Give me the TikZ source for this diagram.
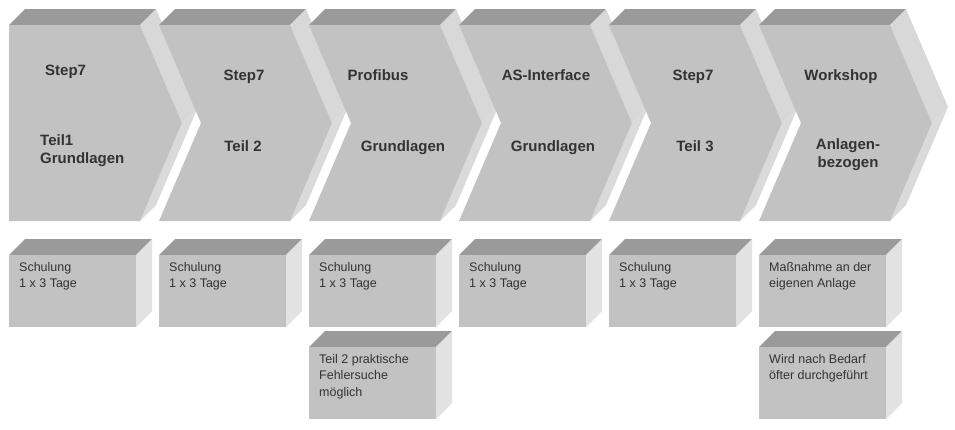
\documentclass[tikz,border=0pt]{standalone}
\usepackage{fontspec}
\setmainfont{Liberation Sans}
\usepackage{tikz}
\usepackage{xcolor}
\definecolor{frontgray}{HTML}{C2C2C2}
\definecolor{topgray}{HTML}{9A9A9A}
\definecolor{sidegray}{HTML}{D8D8D8}
\definecolor{boxside}{HTML}{E2E2E2}
\definecolor{textgray}{HTML}{333333}
\tikzset{
  title/.style={font=\fontsize{15}{18}\selectfont\bfseries, text=textgray, inner sep=0pt},
  note/.style={font=\fontsize{12.5}{16.5}\selectfont, text=textgray, align=left, anchor=north west, inner sep=0pt}
}

\begin{document}
\begin{tikzpicture}[x=1pt,y=-1pt]
\useasboundingbox[fill=white] (0,0) rectangle (955,429);

\foreach \x/\n in {9/0,159/42,309/42,459/42,609/42,759/42} {
  \fill[topgray] (\x,25) -- (\x+16,9) -- (\x+147,9) -- (\x+131,25) -- cycle;
  \fill[sidegray] (\x+131,25) -- (\x+147,9) -- (\x+189,107) -- (\x+173,123) -- cycle;
  \fill[sidegray!95!white] (\x+173,123) -- (\x+189,107) -- (\x+147,205) -- (\x+131,221) -- cycle;
  \fill[frontgray] (\x,25) -- (\x+131,25) -- (\x+173,123) -- (\x+131,221) -- (\x,221) -- (\x+\n,123) -- cycle;
}

\node[title, anchor=base west] (s1a) at (45,75) {Step7};
\node[title, anchor=north west, align=left] (s1b) at (40,134) {Teil1\\Grundlagen};
\node[title, anchor=base] (s2a) at (244,80) {Step7};
\node[title, anchor=base] (s2b) at (243,151) {Teil 2};
\node[title, anchor=base] (s3a) at (378,80) {Profibus};
\node[title, anchor=base] (s3b) at (403,151) {Grundlagen};
\node[title, anchor=base] (s4a) at (546,80) {AS-Interface};
\node[title, anchor=base] (s4b) at (553,151) {Grundlagen};
\node[title, anchor=base] (s5a) at (693,80) {Step7};
\node[title, anchor=base] (s5b) at (695,151) {Teil 3};
\node[title, anchor=base] (s6a) at (841,80) {Workshop};
\node[title, anchor=north, align=center] (s6b) at (848,138) {Anlagen-\\bezogen};

\foreach \x/\y in {9/255,159/255,309/255,459/255,609/255,759/255,309/347,759/347} {
  \fill[topgray] (\x,\y) -- (\x+16,\y-16) -- (\x+143,\y-16) -- (\x+127,\y) -- cycle;
  \fill[boxside] (\x+127,\y) -- (\x+143,\y-16) -- (\x+143,\y+56) -- (\x+127,\y+72) -- cycle;
  \fill[frontgray] (\x,\y) rectangle (\x+127,\y+72);
}

\node[note] (b1) at (19,262) {Schulung\\1 x 3 Tage};
\node[note] (b2) at (169,262) {Schulung\\1 x 3 Tage};
\node[note] (b3) at (319,262) {Schulung\\1 x 3 Tage};
\node[note] (b4) at (469,262) {Schulung\\1 x 3 Tage};
\node[note] (b5) at (619,262) {Schulung\\1 x 3 Tage};
\node[note] (b6) at (769,262) {Maßnahme an der\\eigenen Anlage};
\node[note] (b3x) at (319,354) {Teil 2 praktische\\Fehlersuche\\möglich};
\node[note] (b6x) at (769,354) {Wird nach Bedarf\\öfter durchgeführt};

\end{tikzpicture}
\end{document}
